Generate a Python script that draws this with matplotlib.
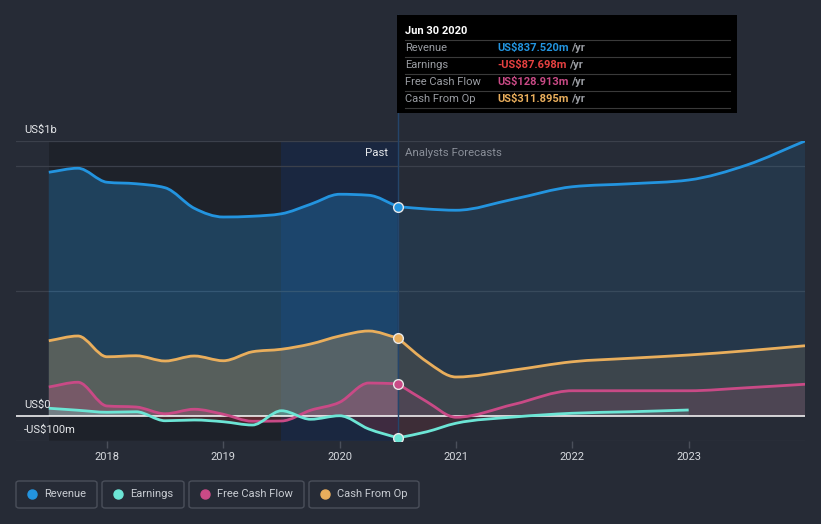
import numpy as np
import matplotlib
matplotlib.use("Agg")
import matplotlib.pyplot as plt
from matplotlib.patches import Rectangle, FancyBboxPatch, PathPatch
from matplotlib.path import Path
from matplotlib.lines import Line2D
import matplotlib.transforms as mtransforms

plt.rcParams['font.family'] = ['Roboto', 'DejaVu Sans']

# past values, US$m, quarterly (trailing twelve months)
t_past = [2017.5, 2017.75, 2018.0, 2018.25, 2018.5, 2018.75, 2019.0,
          2019.25, 2019.5, 2019.75, 2020.0, 2020.25, 2020.5]
rev_past = [975, 991, 935, 929, 913, 831, 796, 799, 809, 847, 887, 883, 837.52]
earn_past = [31, 23, 15, 17, -19, -16, -23, -36, 21, -13, 1, -52, -87.698]
fcf_past = [116, 135, 40, 36, 9, 27, 7, -21, -20, 23, 55, 132, 128.913]
cfo_past = [301, 320, 237, 241, 220, 240, 221, 257, 267, 288, 320, 340, 311.895]

# analyst forecasts, US$m
t_fc = [2020.5, 2020.75, 2021.0, 2021.5, 2022.0, 2022.5, 2023.0, 2023.5, 2024.0]
rev_fc = [837.52, 828, 823, 868, 917, 929, 944, 1004, 1100]
fcf_fc = [128.913, 57, -5, 47, 101, 101, 101, 113, 127]
cfo_fc = [311.895, 217, 156, 184, 217, 231, 244, 261, 281]
t_earn_fc = [2020.5, 2020.75, 2021.0, 2021.5, 2022.0, 2022.5, 2023.0]
earn_fc = [-87.698, -63, -29, -4, 11, 17, 24]

years = [2018, 2019, 2020, 2021, 2022, 2023]
names = ["Revenue", "Earnings", "Free Cash Flow", "Cash From Op"]
tip_values = ["US$837.520m", "-US$87.698m", "US$128.913m", "US$311.895m"]

c_rev = '#2394df'
c_earn = '#6ce5d5'
c_fcf = '#c94a86'
c_cfo = '#e9ae5c'
c_neg = '#e64141'
bg = '#262b36'


def curve(t, v):
    # monotone cubic bezier segments through the points (like d3 curveMonotoneX)
    x = np.asarray(t, float)
    y = np.asarray(v, float)
    n = len(x)
    h = np.diff(x)
    d = np.diff(y) / h
    m = np.zeros(n)
    m[0], m[-1] = d[0], d[-1]
    for i in range(1, n - 1):
        if d[i - 1] * d[i] <= 0:
            m[i] = 0
        else:
            p = (d[i - 1] * h[i] + d[i] * h[i - 1]) / (h[i - 1] + h[i])
            m[i] = np.sign(d[i]) * min(abs(p), 2 * abs(d[i - 1]), 2 * abs(d[i]))
    verts = [(x[0], y[0])]
    codes = [Path.MOVETO]
    for i in range(n - 1):
        dx = h[i] / 3
        verts += [(x[i] + dx, y[i] + m[i] * dx), (x[i + 1] - dx, y[i + 1] - m[i + 1] * dx), (x[i + 1], y[i + 1])]
        codes += [Path.CURVE4] * 3
    return verts, codes


def area(ax, t, v, col, alpha, neg_alpha):
    verts, codes = curve(t, v)
    verts = verts + [(t[-1], 0), (t[0], 0), (t[0], 0)]
    codes = codes + [Path.LINETO, Path.LINETO, Path.CLOSEPOLY]
    p = Path(verts, codes)
    up = PathPatch(p, facecolor=col, alpha=alpha, lw=0, zorder=2)
    dn = PathPatch(p, facecolor=c_neg, alpha=neg_alpha, lw=0, zorder=2)
    ax.add_patch(up)
    ax.add_patch(dn)
    up.set_clip_path(Rectangle((2000, 0), 50, 5000, transform=ax.transData))
    dn.set_clip_path(Rectangle((2000, -5000), 50, 5000, transform=ax.transData))


def line(ax, t, v, col):
    verts, codes = curve(t, v)
    ax.add_patch(PathPatch(Path(verts, codes), facecolor='none', edgecolor=col, lw=2.0,
                           capstyle='butt', joinstyle='round', zorder=4))


W, H = 821, 524
fig = plt.figure(figsize=(W / 100, H / 100), dpi=100, facecolor=bg)
fx = lambda px: px / W
fy = lambda py: 1 - py / H

ax = fig.add_axes([fx(16), fy(441), (805 - 16) / W, 300 / H])
ax.set_facecolor(bg)
ax.set_xlim(2017.218, 2024.0)
ax.set_ylim(-100, 1100)
for s in ax.spines.values():
    s.set_visible(False)

# past area and last-year highlight
ax.axvspan(t_past[0], 2019.5, color='#1e222a', zorder=0, lw=0)
ax.axvspan(2019.5, 2020.5, color='#1a2740', zorder=0, lw=0)

for g in [500, 1000, 1100, -100]:
    ax.axhline(g, color='#3b404b', lw=0.9, zorder=1)

series_past = [(rev_past, c_rev), (cfo_past, c_cfo), (fcf_past, c_fcf), (earn_past, c_earn)]
series_fc = [(t_fc, rev_fc, c_rev), (t_fc, cfo_fc, c_cfo), (t_fc, fcf_fc, c_fcf),
             (t_earn_fc, earn_fc, c_earn)]

for vals, col in series_past:
    area(ax, t_past, vals, col, 0.28, 0.18)
for t, vals, col in series_fc:
    area(ax, t, vals, col, 0.12, 0.12)

ax.axhline(0, color='white', lw=1.1, zorder=3)

for vals, col in series_past:
    line(ax, t_past, vals, col)
for t, vals, col in series_fc:
    line(ax, t, vals, col)

# hover line and markers
ax.axvline(2020.5, ymin=0, ymax=1.42, color='#24456b', lw=1.0, zorder=3, clip_on=False)
for vals, col in series_past:
    ax.plot(t_past[-1], vals[-1], 'o', ms=7, mfc=col, mec='#e8e8e8', mew=1.0, zorder=5)

ax.set_xticks(years)
ax.set_xticklabels([str(y) for y in years])
ax.set_yticks([])
ax.tick_params(axis='x', colors='#4a4f5a', length=5, width=1, pad=3, labelsize=8, labelcolor='#d6d9de')

trans = mtransforms.blended_transform_factory(ax.transAxes, ax.transData)
for val, lab in [(1100, 'US$1b'), (0, 'US$0'), (-100, '-US$100m')]:
    ax.annotate(lab, xy=(0, val), xycoords=trans, xytext=(5.8, 4), textcoords='offset points',
                va='bottom', ha='left', color='#e6e8eb', fontsize=8, zorder=6)

ax.text(fx(388), fy(153), 'Past', transform=fig.transFigure, ha='right', va='center',
        color='#e6e8eb', fontsize=8.2)
ax.text(fx(405), fy(153), 'Analysts Forecasts', transform=fig.transFigure, ha='left', va='center',
        color='#8a8f99', fontsize=8.2)

# tooltip
fig.patches.append(Rectangle((fx(397), fy(113)), (737 - 397) / W, (113 - 15) / H,
                             transform=fig.transFigure, facecolor='black', edgecolor='none', zorder=10))
fig.text(fx(405), fy(31), 'Jun 30 2020', ha='left', va='center', color='white',
         fontsize=8, fontweight='bold', zorder=11)
tip_cols = [c_rev, c_neg, c_fcf, c_cfo]
for i, (nm, val, col) in enumerate(zip(names, tip_values, tip_cols)):
    yy = 48 + 17 * i
    fig.lines.append(Line2D([fx(405), fx(730)], [fy(yy - 8), fy(yy - 8)], transform=fig.transFigure,
                            color='#3a3a3a', lw=0.8, zorder=11))
    fig.text(fx(405), fy(yy), nm, ha='left', va='center', color='#9a9da3', fontsize=8, zorder=11)
    tv = fig.text(fx(497), fy(yy), val, ha='left', va='center', color=col, fontsize=8,
                  fontweight='bold', zorder=11)
    fig.canvas.draw()
    bb = tv.get_window_extent()
    fig.text(bb.x1 / W + fx(3), fy(yy), '/yr', ha='left', va='center', color='#9a9da3',
             fontsize=8, fontweight='bold', zorder=11)
fig.lines.append(Line2D([fx(405), fx(730)], [fy(108), fy(108)], transform=fig.transFigure,
                        color='#3a3a3a', lw=0.8, zorder=11))

# legend
boxes = [(16, 97), (102, 184), (189, 304), (309, 419)]
for (x0, x1), nm, col in zip(boxes, names, [c_rev, c_earn, c_fcf, c_cfo]):
    fig.patches.append(FancyBboxPatch((fx(x0), fy(508)), (x1 - x0) / W, 27 / H,
                                      boxstyle='round,pad=0,rounding_size=0.004',
                                      transform=fig.transFigure, facecolor='none',
                                      edgecolor='#4a4f5a', lw=1.0))
    fig.lines.append(Line2D([fx(x0 + 16)], [fy(494)], marker='o', ms=6.5, color=col,
                            transform=fig.transFigure, lw=0))
    fig.text(fx(x0 + 28), fy(494), nm, ha='left', va='center', color='#c8ccd2', fontsize=8)

fig.savefig('out.png', dpi=100, facecolor=bg)
